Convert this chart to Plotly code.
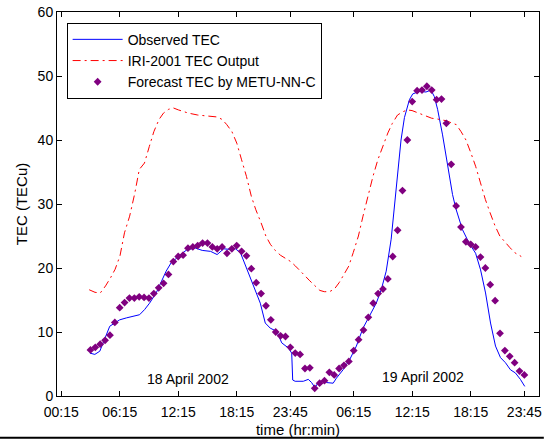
import plotly.graph_objects as go

# ---------------- data (hours since 00:00 on 18 April 2002) ----------------
obs_hours = [3.19, 3.7, 4.21, 4.55, 4.89, 5.23, 5.74, 6.25, 6.93, 7.61, 8.29, 8.8, 9.31, 9.99,
             10.5, 11.01, 11.52, 12.2, 12.51, 13.18, 14.04, 14.71, 15.57, 16.24, 16.92, 17.61,
             18.12, 18.63, 19.3, 19.98, 20.67, 21.18, 21.69, 22.36, 22.87, 23.55, 23.89, 23.99,
             24.24, 25.08, 25.59, 25.93, 26.27, 26.61, 27.12, 27.46, 28.14, 28.48, 29.16, 29.84,
             30.52, 31.2, 31.88, 32.56, 33.07, 33.58, 34.09, 34.43, 34.77, 35.1, 35.45, 35.96,
             36.3, 36.64, 36.98, 37.66, 38.17, 38.51, 38.85, 39.36, 39.87, 40.38, 40.72, 41.4,
             42.08, 42.75, 43.26, 43.77, 44.28, 44.79, 45.3, 45.81, 46.32, 46.83, 47.34, 47.79]
obs_tec = [6.7, 6.5, 7.0, 8.3, 9.6, 10.9, 11.4, 11.9, 12.2, 12.5, 12.7, 13.5, 14.5, 16.1,
           17.7, 19.5, 20.8, 21.8, 22.1, 22.9, 23.1, 22.75, 22.6, 22.1, 23.0, 22.9,
           23.0, 22.4, 19.7, 17.1, 14.5, 11.4, 10.6, 10.1, 8.3, 7.5, 6.7, 2.5,
           2.3, 2.3, 2.6, 2.1, 1.3, 2.1, 2.3, 2.1, 2.0, 2.8, 4.1, 5.7,
           7.8, 10.6, 12.5, 14.5, 16.6, 19.5, 24.5, 30.0, 35.0, 40.0, 43.5, 46.3,
           47.2, 47.4, 47.6, 47.5, 47.8, 46.8, 44.8, 40.8, 36.0, 31.5, 29.3, 26.0,
           23.9, 22.3, 19.7, 16.1, 11.4, 7.8, 6.0, 5.2, 4.1, 3.6, 2.6, 1.5]

iri_hours = [3.12, 3.72, 4.26, 4.8, 5.32, 5.78, 6.28, 6.74, 7.27, 7.8, 8.26, 8.79, 9.29, 9.75,
             10.28, 10.74, 11.27, 11.77, 12.27, 13.3, 14.25, 15.28, 16.24, 16.77, 17.23, 17.76,
             18.26, 18.75, 19.25, 19.75, 20.21, 20.74, 21.24, 21.7, 22.23, 22.73, 23.22, 23.79,
             24.28, 24.78, 25.24, 25.74, 26.27, 26.77, 27.23, 27.76, 28.26, 28.75, 29.25, 29.74,
             30.2, 30.73, 31.2, 31.69, 32.22, 32.72, 33.22, 33.75, 34.21, 34.74, 35.27, 35.73,
             36.23, 36.76, 37.22, 37.72, 38.25, 38.75, 39.24, 39.77, 40.24, 40.77, 41.26, 41.76,
             42.26, 42.75, 43.25, 43.75, 44.24, 44.74, 45.23, 45.77, 46.26, 46.76, 47.26, 47.43]
iri_tec = [16.6, 16.2, 16.1, 17.2, 18.5, 19.8, 21.9, 25.5, 28.1, 31.7, 35.4, 36.4, 39.0, 41.3,
           43.2, 44.2, 44.8, 45.0, 44.7, 44.2, 43.9, 43.7, 43.6, 43.2, 42.4, 41.3,
           39.5, 36.9, 34.3, 31.2, 29.1, 27.1, 25.0, 23.7, 22.7, 22.0, 21.5, 21.0,
           20.3, 19.6, 18.8, 18.0, 17.2, 16.5, 16.3, 16.3, 16.7, 17.7, 19.0, 20.3,
           22.4, 25.0, 28.1, 31.2, 34.3, 36.9, 39.0, 41.1, 42.6, 43.9, 44.4, 44.7,
           44.6, 44.3, 44.1, 43.7, 43.4, 43.3, 43.2, 43.0, 42.7, 42.4, 41.3, 40.0,
           38.0, 35.9, 33.3, 30.7, 28.6, 26.6, 25.0, 24.0, 23.2, 22.4, 21.9, 21.8]

fc_hours = [3.25, 3.75, 4.25, 4.75, 5.25, 5.75, 6.25, 6.75, 7.25, 7.75,
            8.25, 8.75, 9.25, 9.75, 10.25, 10.75, 11.25, 11.75, 12.25, 12.75,
            13.25, 13.75, 14.25, 14.75, 15.25, 15.75, 16.25, 16.75, 17.25, 17.75,
            18.25, 18.75, 19.25, 19.75, 20.25, 20.75, 21.25, 21.75, 22.25, 22.75,
            23.25, 23.75, 24.25, 24.75, 25.25, 25.75, 26.25, 26.75, 27.25, 27.75,
            28.25, 28.75, 29.25, 29.75, 30.25, 30.75, 31.25, 31.75, 32.25, 32.75,
            33.25, 33.75, 34.25, 34.75, 35.25, 35.75, 36.25, 36.75, 37.25, 37.75,
            38.25, 38.75, 39.25, 39.75, 40.25, 40.75, 41.25, 41.75, 42.25, 42.75,
            43.25, 43.75, 44.25, 44.75, 45.25, 45.75, 46.25, 46.75, 47.25, 47.75]
fc_tec = [7.2, 7.6, 8.1, 8.7, 9.5, 11.5, 13.8, 14.6, 15.3, 15.3,
          15.5, 15.4, 15.3, 16.0, 16.9, 17.6, 19.0, 21.0, 21.8, 22.0,
          23.1, 23.3, 23.5, 23.9, 23.9, 23.3, 23.0, 23.3, 22.3, 23.0,
          23.5, 22.6, 21.9, 19.9, 17.7, 16.0, 14.1, 11.9, 10.0, 9.4,
          9.3, 7.6, 6.7, 6.5, 4.3, 4.4, 1.2, 2.0, 2.4, 3.7,
          3.3, 4.3, 4.8, 5.4, 7.1, 8.8, 10.3, 12.3, 14.5, 16.0,
          16.7, 18.3, 21.8, 25.9, 32.1, 40.0, 46.0, 47.7, 47.8, 48.4,
          47.8, 46.3, 46.4, 42.6, 36.2, 29.7, 26.4, 24.1, 23.7, 23.3,
          21.7, 20.0, 17.4, 14.9, 9.8, 7.1, 6.2, 5.2, 3.9, 3.3]

tick_hours = [0.25, 6.25, 12.25, 18.25, 23.75, 30.25, 36.25, 42.25, 47.75]
tick_labels = ["00:15", "06:15", "12:15", "18:15", "23:45", "06:15", "12:15", "18:15", "23:45"]
y_ticks = [0, 10, 20, 30, 40, 50, 60]

FONT = "Liberation Sans, Arial, sans-serif"

fig = go.Figure()
fig.add_trace(go.Scatter(x=obs_hours, y=obs_tec, mode="lines", name="Observed TEC",
                         line=dict(color="#0000FF", width=1)))
fig.add_trace(go.Scatter(x=iri_hours, y=iri_tec, mode="lines", name="IRI-2001 TEC Output",
                         line=dict(color="#FF0000", width=1, dash="8px,4px,2px,4px")))
fig.add_trace(go.Scatter(x=fc_hours, y=fc_tec, mode="markers", name="Forecast TEC by METU-NN-C",
                         marker=dict(symbol="diamond", size=6, color="#800080", line=dict(width=0))))

fig.add_annotation(x=13.3, y=2.7, text="18 April 2002", showarrow=False,
                   font=dict(family=FONT, size=14, color="black"))
fig.add_annotation(x=37.4, y=2.9, text="19 April 2002", showarrow=False,
                   font=dict(family=FONT, size=14, color="black"))

# bottom border of the original picture
fig.add_shape(type="line", xref="paper", yref="paper", x0=-0.12, x1=1.01, y0=-0.109, y1=-0.109,
              line=dict(color="black", width=2))

fig.update_layout(
    width=545, height=440,
    margin=dict(l=57, r=3, t=12, b=44),
    paper_bgcolor="white", plot_bgcolor="white",
    font=dict(family=FONT, size=14, color="black"),
    showlegend=True,
    legend=dict(x=0.02, y=0.972, xanchor="left", yanchor="top",
                bgcolor="white", bordercolor="black", borderwidth=1,
                font=dict(family=FONT, size=14, color="black"),
                itemwidth=50, tracegroupgap=0),
)
fig.update_xaxes(range=[-0.18, 49.25], tickmode="array", tickvals=tick_hours, ticktext=tick_labels,
                 ticks="inside", ticklen=5, tickcolor="black", showline=True, linecolor="black",
                 linewidth=1, mirror="ticks", showgrid=False, zeroline=False,
                 ticklabeloverflow="allow", ticklabelstandoff=3,
                 title=dict(text="time (hr:min)", standoff=5, font=dict(size=15)),
                 tickfont=dict(size=14))
fig.update_yaxes(range=[0, 60], tickmode="array", tickvals=y_ticks,
                 ticks="inside", ticklen=5, tickcolor="black", showline=True, linecolor="black",
                 linewidth=1, mirror="ticks", showgrid=False, zeroline=False,
                 title=dict(text="TEC (TECu)", standoff=6, font=dict(size=15)),
                 tickfont=dict(size=14))

fig.write_html("out.html")
